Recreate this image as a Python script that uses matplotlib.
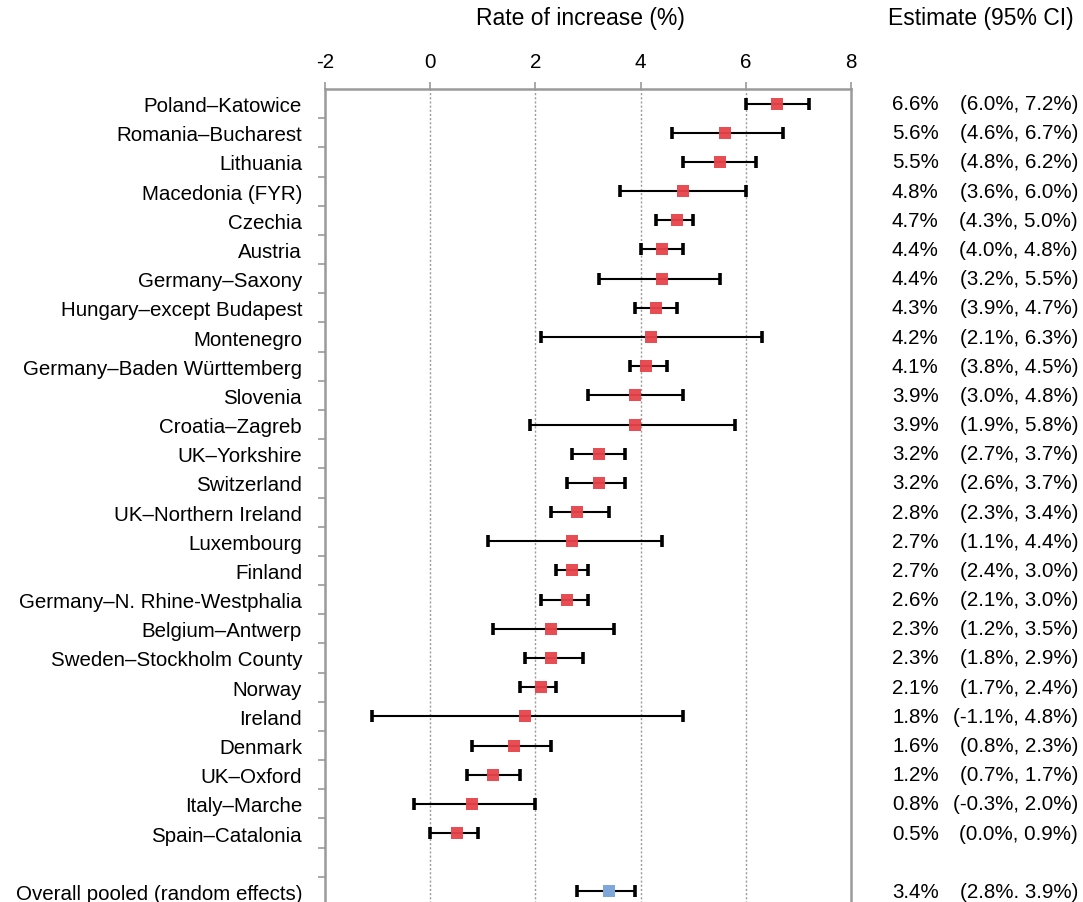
import matplotlib

matplotlib.use("Agg")
import matplotlib.pyplot as plt
import matplotlib.transforms as mtransforms

plt.rcParams["font.family"] = ["Liberation Sans", "DejaVu Sans"]

regions = [
    "Poland\u2013Katowice", "Romania\u2013Bucharest", "Lithuania", "Macedonia (FYR)",
    "Czechia", "Austria", "Germany\u2013Saxony", "Hungary\u2013except Budapest",
    "Montenegro", "Germany\u2013Baden W\u00fcrttemberg", "Slovenia", "Croatia\u2013Zagreb",
    "UK\u2013Yorkshire", "Switzerland", "UK\u2013Northern Ireland", "Luxembourg",
    "Finland", "Germany\u2013N. Rhine-Westphalia", "Belgium\u2013Antwerp",
    "Sweden\u2013Stockholm County", "Norway", "Ireland", "Denmark", "UK\u2013Oxford",
    "Italy\u2013Marche", "Spain\u2013Catalonia",
]
estimate = [6.6, 5.6, 5.5, 4.8, 4.7, 4.4, 4.4, 4.3, 4.2, 4.1, 3.9, 3.9, 3.2,
            3.2, 2.8, 2.7, 2.7, 2.6, 2.3, 2.3, 2.1, 1.8, 1.6, 1.2, 0.8, 0.5]
ci_low = [6.0, 4.6, 4.8, 3.6, 4.3, 4.0, 3.2, 3.9, 2.1, 3.8, 3.0, 1.9, 2.7,
          2.6, 2.3, 1.1, 2.4, 2.1, 1.2, 1.8, 1.7, -1.1, 0.8, 0.7, -0.3, 0.0]
ci_high = [7.2, 6.7, 6.2, 6.0, 5.0, 4.8, 5.5, 4.7, 6.3, 4.5, 4.8, 5.8, 3.7,
           3.7, 3.4, 4.4, 3.0, 3.0, 3.5, 2.9, 2.4, 4.8, 2.3, 1.7, 2.0, 0.9]

pooled_label = "Overall pooled (random effects)"
pooled_est, pooled_low, pooled_high = 3.4, 2.8, 3.9

xticks = [-2, 0, 2, 4, 6, 8]

RED = "#e8434b"
BLUE = "#7ea6d8"
GREY = "#9a9a9a"

W, H = 1083, 903
fig = plt.figure(figsize=(W / 100, H / 100), dpi=100)
ax = fig.add_axes([325 / W, 1 - 907 / H, (851 - 325) / W, (907 - 90) / H])

n = len(regions)
rows = list(range(n))
pooled_row = n + 1

bar_kw = dict(fmt="none", ecolor="black", elinewidth=1.5, capsize=4.2,
              capthick=2.6, zorder=3)
mark_kw = dict(markersize=9.3, markeredgewidth=0, zorder=4)

err = [[e - lo for e, lo in zip(estimate, ci_low)],
       [hi - e for e, hi in zip(estimate, ci_high)]]
ax.errorbar(estimate, rows, xerr=err, **bar_kw)
ax.plot(estimate, rows, "s", color=RED, alpha=0.95, **mark_kw)

ax.errorbar([pooled_est], [pooled_row],
            xerr=[[pooled_est - pooled_low], [pooled_high - pooled_est]],
            **bar_kw)
ax.plot([pooled_est], [pooled_row], "s", color=BLUE, **mark_kw)

ax.set_xlim(-2, 8)
ax.set_ylim(pooled_row + 0.5, -0.5)

# top axis only
ax.xaxis.tick_top()
ax.set_xticks(xticks)
ax.set_xticklabels([str(t) for t in xticks], fontsize=14.8)
ax.tick_params(axis="x", direction="out", length=5, width=1.2, color=GREY,
               pad=8)
for t in xticks[1:-1]:
    ax.axvline(t, color=GREY, linestyle=(0, (1.5, 1.5)), linewidth=1.0,
               zorder=1)

# region names as y labels, small ticks between rows
label_rows = rows + [pooled_row]
ax.set_yticks(label_rows)
ax.set_yticklabels(regions + [pooled_label], fontsize=14.8)
ax.tick_params(axis="y", which="major", length=0, pad=16.5)
ax.set_yticks([r + 0.5 for r in range(pooled_row)], minor=True)
ax.tick_params(axis="y", which="minor", direction="out", length=5,
               width=1.2, color=GREY)

for side in ["top", "left", "right", "bottom"]:
    ax.spines[side].set_color(GREY)
    ax.spines[side].set_linewidth(1.8)

# estimate column
trans = mtransforms.blended_transform_factory(fig.transFigure, ax.transData)
texts_est = [f"{e:.1f}%" for e in estimate] + [f"{pooled_est:.1f}%"]
texts_ci = [f"({lo:.1f}%, {hi:.1f}%)" for lo, hi in zip(ci_low, ci_high)]
texts_ci.append(f"({pooled_low:.1f}%. {pooled_high:.1f}%)")
for r, te, tc in zip(label_rows, texts_est, texts_ci):
    ax.text(892 / W, r, te, transform=trans, ha="left", va="center",
            fontsize=14.8)
    ax.text(1078 / W, r, tc, transform=trans, ha="right", va="center",
            fontsize=14.8)

fig.text(580 / W, 1 - 18 / H, "Rate of increase (%)", ha="center",
         va="center", fontsize=16.5)
fig.text(981 / W, 1 - 18 / H, "Estimate (95% CI)", ha="center",
         va="center", fontsize=16.5)

fig.savefig("out.png", dpi=100)
plt.close(fig)
